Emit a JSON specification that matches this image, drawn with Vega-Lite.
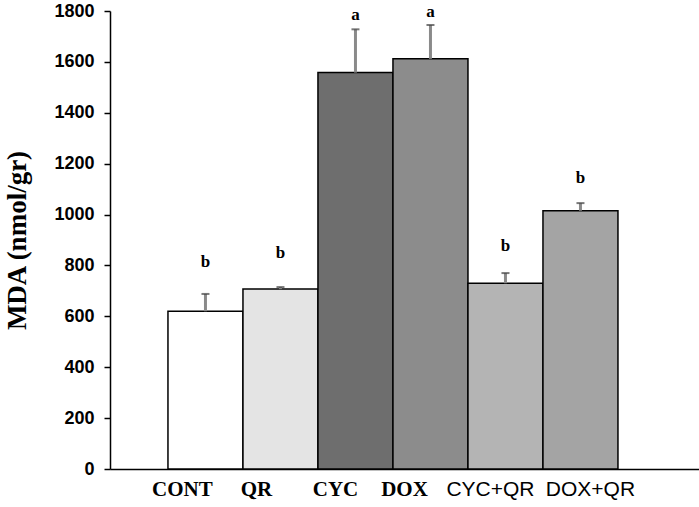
{
  "$schema": "https://vega.github.io/schema/vega-lite/v6.json",
  "width": 589,
  "height": 458,
  "autosize": {"type": "none"},
  "padding": {"left": 110, "top": 11, "right": 0, "bottom": 38},
  "background": "white",
  "config": {"view": {"stroke": null}},
  "data": {
    "values": [
      {"group": "CONT", "mean": 620, "upper": 688, "letter": "b", "letterPos": 814},
      {"group": "QR", "mean": 707, "upper": 715, "letter": "b", "letterPos": 849},
      {"group": "CYC", "mean": 1558, "upper": 1728, "letter": "a", "letterPos": 1786},
      {"group": "DOX", "mean": 1612, "upper": 1745, "letter": "a", "letterPos": 1797},
      {"group": "CYC+QR", "mean": 730, "upper": 770, "letter": "b", "letterPos": 878},
      {"group": "DOX+QR", "mean": 1015, "upper": 1045, "letter": "b", "letterPos": 1143}
    ]
  },
  "encoding": {
    "x": {
      "field": "group",
      "type": "nominal",
      "sort": null,
      "scale": {"paddingInner": 0, "paddingOuter": 0.9267, "align": 0.417},
      "axis": {
        "title": null,
        "ticks": false,
        "domainColor": "black",
        "domainWidth": 1.5,
        "labelAngle": 0,
        "labelPadding": 9,
        "labelFontSize": 21,
        "labelColor": "black",
        "labelFont": {"condition": {"test": "indexof(datum.value, '+') >= 0", "value": "Liberation Sans"}, "value": "Liberation Serif"},
        "labelFontWeight": {"condition": {"test": "indexof(datum.value, '+') >= 0", "value": "normal"}, "value": "bold"},
        "labelOffset": {"condition": [
          {"test": "datum.value === 'CONT'", "value": -23},
          {"test": "datum.value === 'QR'", "value": -24},
          {"test": "datum.value === 'CYC'", "value": -20},
          {"test": "datum.value === 'DOX'", "value": -26},
          {"test": "datum.value === 'CYC+QR'", "value": -15}
        ], "value": 10}
      }
    }
  },
  "layer": [
    {
      "mark": {"type": "bar", "stroke": "black", "strokeWidth": 1.5},
      "encoding": {
        "y": {
          "field": "mean",
          "type": "quantitative",
          "scale": {"domain": [0, 1800], "nice": false},
          "axis": {
            "title": "MDA (nmol/gr)",
            "titleFont": "Liberation Serif",
            "titleFontSize": 27,
            "titleFontWeight": "bold",
            "titleColor": "black",
            "titlePadding": 22,
            "values": [0, 200, 400, 600, 800, 1000, 1200, 1400, 1600, 1800],
            "format": "d",
            "grid": false,
            "domainColor": "black",
            "domainWidth": 1.5,
            "tickColor": "black",
            "tickSize": 6,
            "tickWidth": 1.5,
            "labelFont": "Liberation Sans",
            "labelFontWeight": "bold",
            "labelFontSize": 18,
            "labelColor": "black",
            "labelPadding": 10
          }
        },
        "fill": {
          "field": "group",
          "type": "nominal",
          "scale": {
            "domain": ["CONT", "QR", "CYC", "DOX", "CYC+QR", "DOX+QR"],
            "range": ["#ffffff", "#e4e4e4", "#6e6e6e", "#8c8c8c", "#b4b4b4", "#a4a4a4"]
          },
          "legend": null
        }
      }
    },
    {
      "mark": {"type": "rule", "color": "#8a8a8a", "strokeWidth": 3},
      "encoding": {
        "y": {"field": "mean", "type": "quantitative"},
        "y2": {"field": "upper"}
      }
    },
    {
      "mark": {"type": "tick", "color": "#404040", "size": 8, "thickness": 2},
      "encoding": {
        "y": {"field": "upper", "type": "quantitative"}
      }
    },
    {
      "mark": {"type": "text", "font": "Liberation Serif", "fontWeight": "bold", "fontSize": 17, "color": "black", "baseline": "middle"},
      "encoding": {
        "y": {"field": "letterPos", "type": "quantitative"},
        "text": {"field": "letter"}
      }
    }
  ]
}
